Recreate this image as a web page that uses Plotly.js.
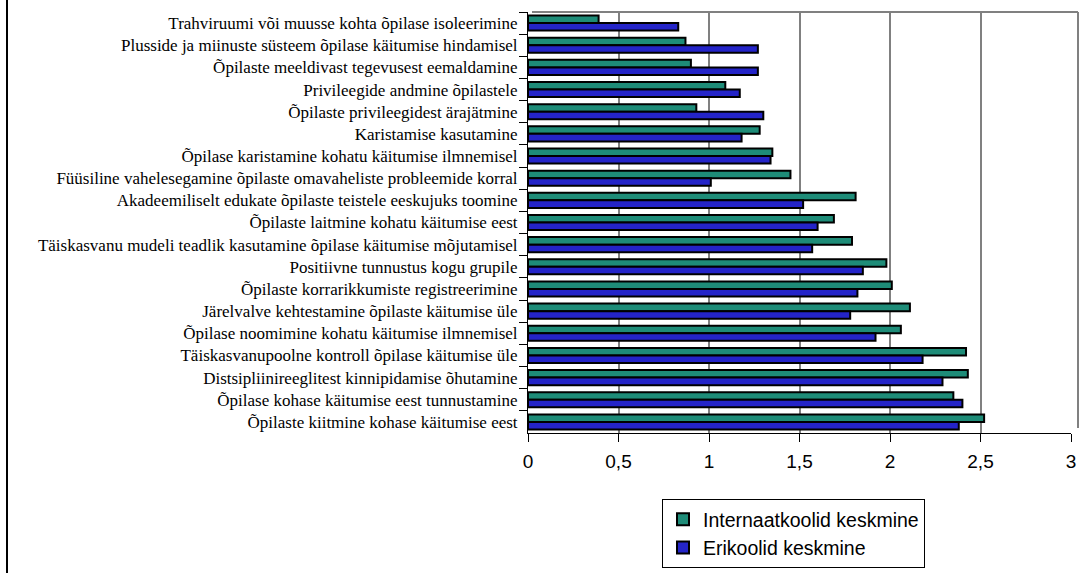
<!DOCTYPE html>
<html>
<head>
<meta charset="utf-8">
<script src="https://cdn.plot.ly/plotly-3.0.1.min.js"></script>
<style>html,body{margin:0;padding:0;background:#fff;}#chart{width:1080px;height:573px;}</style>
</head>
<body>
<div id="chart"></div>
<script>
const categories = [
  "Trahviruumi või muusse kohta õpilase isoleerimine",
  "Plusside ja miinuste süsteem õpilase käitumise hindamisel",
  "Õpilaste meeldivast tegevusest eemaldamine",
  "Privileegide andmine õpilastele",
  "Õpilaste privileegidest ärajätmine",
  "Karistamise kasutamine",
  "Õpilase karistamine kohatu käitumise ilmnemisel",
  "Füüsiline vahelesegamine õpilaste omavaheliste probleemide korral",
  "Akadeemiliselt edukate õpilaste teistele eeskujuks toomine",
  "Õpilaste laitmine kohatu käitumise eest",
  "Täiskasvanu mudeli teadlik kasutamine õpilase käitumise mõjutamisel",
  "Positiivne tunnustus kogu grupile",
  "Õpilaste korrarikkumiste registreerimine",
  "Järelvalve kehtestamine õpilaste käitumise üle",
  "Õpilase noomimine kohatu käitumise ilmnemisel",
  "Täiskasvanupoolne kontroll õpilase käitumise üle",
  "Distsipliinireeglitest kinnipidamise õhutamine",
  "Õpilase kohase käitumise eest tunnustamine",
  "Õpilaste kiitmine kohase käitumise eest"
];
const internaatkoolid = [0.39, 0.87, 0.90, 1.09, 0.93, 1.28, 1.35, 1.45, 1.81, 1.69, 1.79, 1.98, 2.01, 2.11, 2.06, 2.42, 2.43, 2.35, 2.52];
const erikoolid       = [0.83, 1.27, 1.27, 1.17, 1.30, 1.18, 1.34, 1.01, 1.52, 1.60, 1.57, 1.85, 1.82, 1.78, 1.92, 2.18, 2.29, 2.40, 2.38];
const seriesNames = ["Internaatkoolid keskmine", "Erikoolid keskmine"];
const xTicks = [0, 0.5, 1, 1.5, 2, 2.5, 3];

const W = 1080, H = 573;
const mL = 528, mR = 9, mT = 12, mB = 140;
const pw = W - mL - mR, ph = H - mT - mB;
const px = p => (p - mL) / pw;          // pixel x -> paper x
const py = p => (H - mB - p) / ph;      // pixel y -> paper y

const traces = [
  {type: 'bar', orientation: 'h', name: seriesNames[0], y: categories, x: internaatkoolid,
   marker: {color: '#1e8c78', line: {color: '#000', width: 2}}},
  {type: 'bar', orientation: 'h', name: seriesNames[1], y: categories, x: erikoolid,
   marker: {color: '#2424c8', line: {color: '#000', width: 2}}}
];

const layout = {
  width: W, height: H,
  margin: {l: mL, r: mR, t: mT, b: mB, pad: 0, autoexpand: false},
  paper_bgcolor: '#fff', plot_bgcolor: '#fff',
  separators: ', ',
  barmode: 'group', bargap: 0.32, bargroupgap: 0,
  showlegend: true,
  legend: {x: px(662), y: py(499), xanchor: 'left', yanchor: 'top',
    bordercolor: '#000', borderwidth: 1, bgcolor: '#fff',
    font: {family: 'Liberation Sans, Arial', size: 19.5, color: '#000'},
    tracegroupgap: 0, itemwidth: 30},
  xaxis: {range: [0, 3], tickvals: xTicks, ticktext: xTicks.map(v => String(v).replace('.', ',')),
    showgrid: true, gridcolor: '#808080', gridwidth: 2,
    showline: true, linecolor: '#000', linewidth: 1,
    ticks: 'outside', ticklen: 8, tickcolor: '#000', ticklabelstandoff: 3,
    tickfont: {family: 'Liberation Sans, Arial', size: 19, color: '#000'},
    zeroline: false, fixedrange: true, automargin: false},
  yaxis: {autorange: 'reversed', type: 'category',
    showline: true, linecolor: '#000', linewidth: 1,
    ticks: 'outside', tickson: 'boundaries', ticklen: 8, tickcolor: '#000', ticklabelstandoff: 6,
    tickfont: {family: 'Liberation Serif, Times New Roman', size: 17, color: '#000'},
    showgrid: false, fixedrange: true, automargin: false},
  shapes: [
    {type: 'line', xref: 'paper', yref: 'paper', x0: px(532), x1: px(1078), y0: py(12), y1: py(12), line: {color: '#808080', width: 2}},
    {type: 'line', xref: 'paper', yref: 'paper', x0: px(1078), x1: px(1078), y0: py(12), y1: py(428), line: {color: '#808080', width: 2}},
    {type: 'line', xref: 'paper', yref: 'paper', x0: px(7), x1: px(7), y0: py(0), y1: py(573), line: {color: '#000', width: 2}}
  ]
};

Plotly.newPlot('chart', traces, layout, {displayModeBar: false, staticPlot: true});
</script>
</body>
</html>
